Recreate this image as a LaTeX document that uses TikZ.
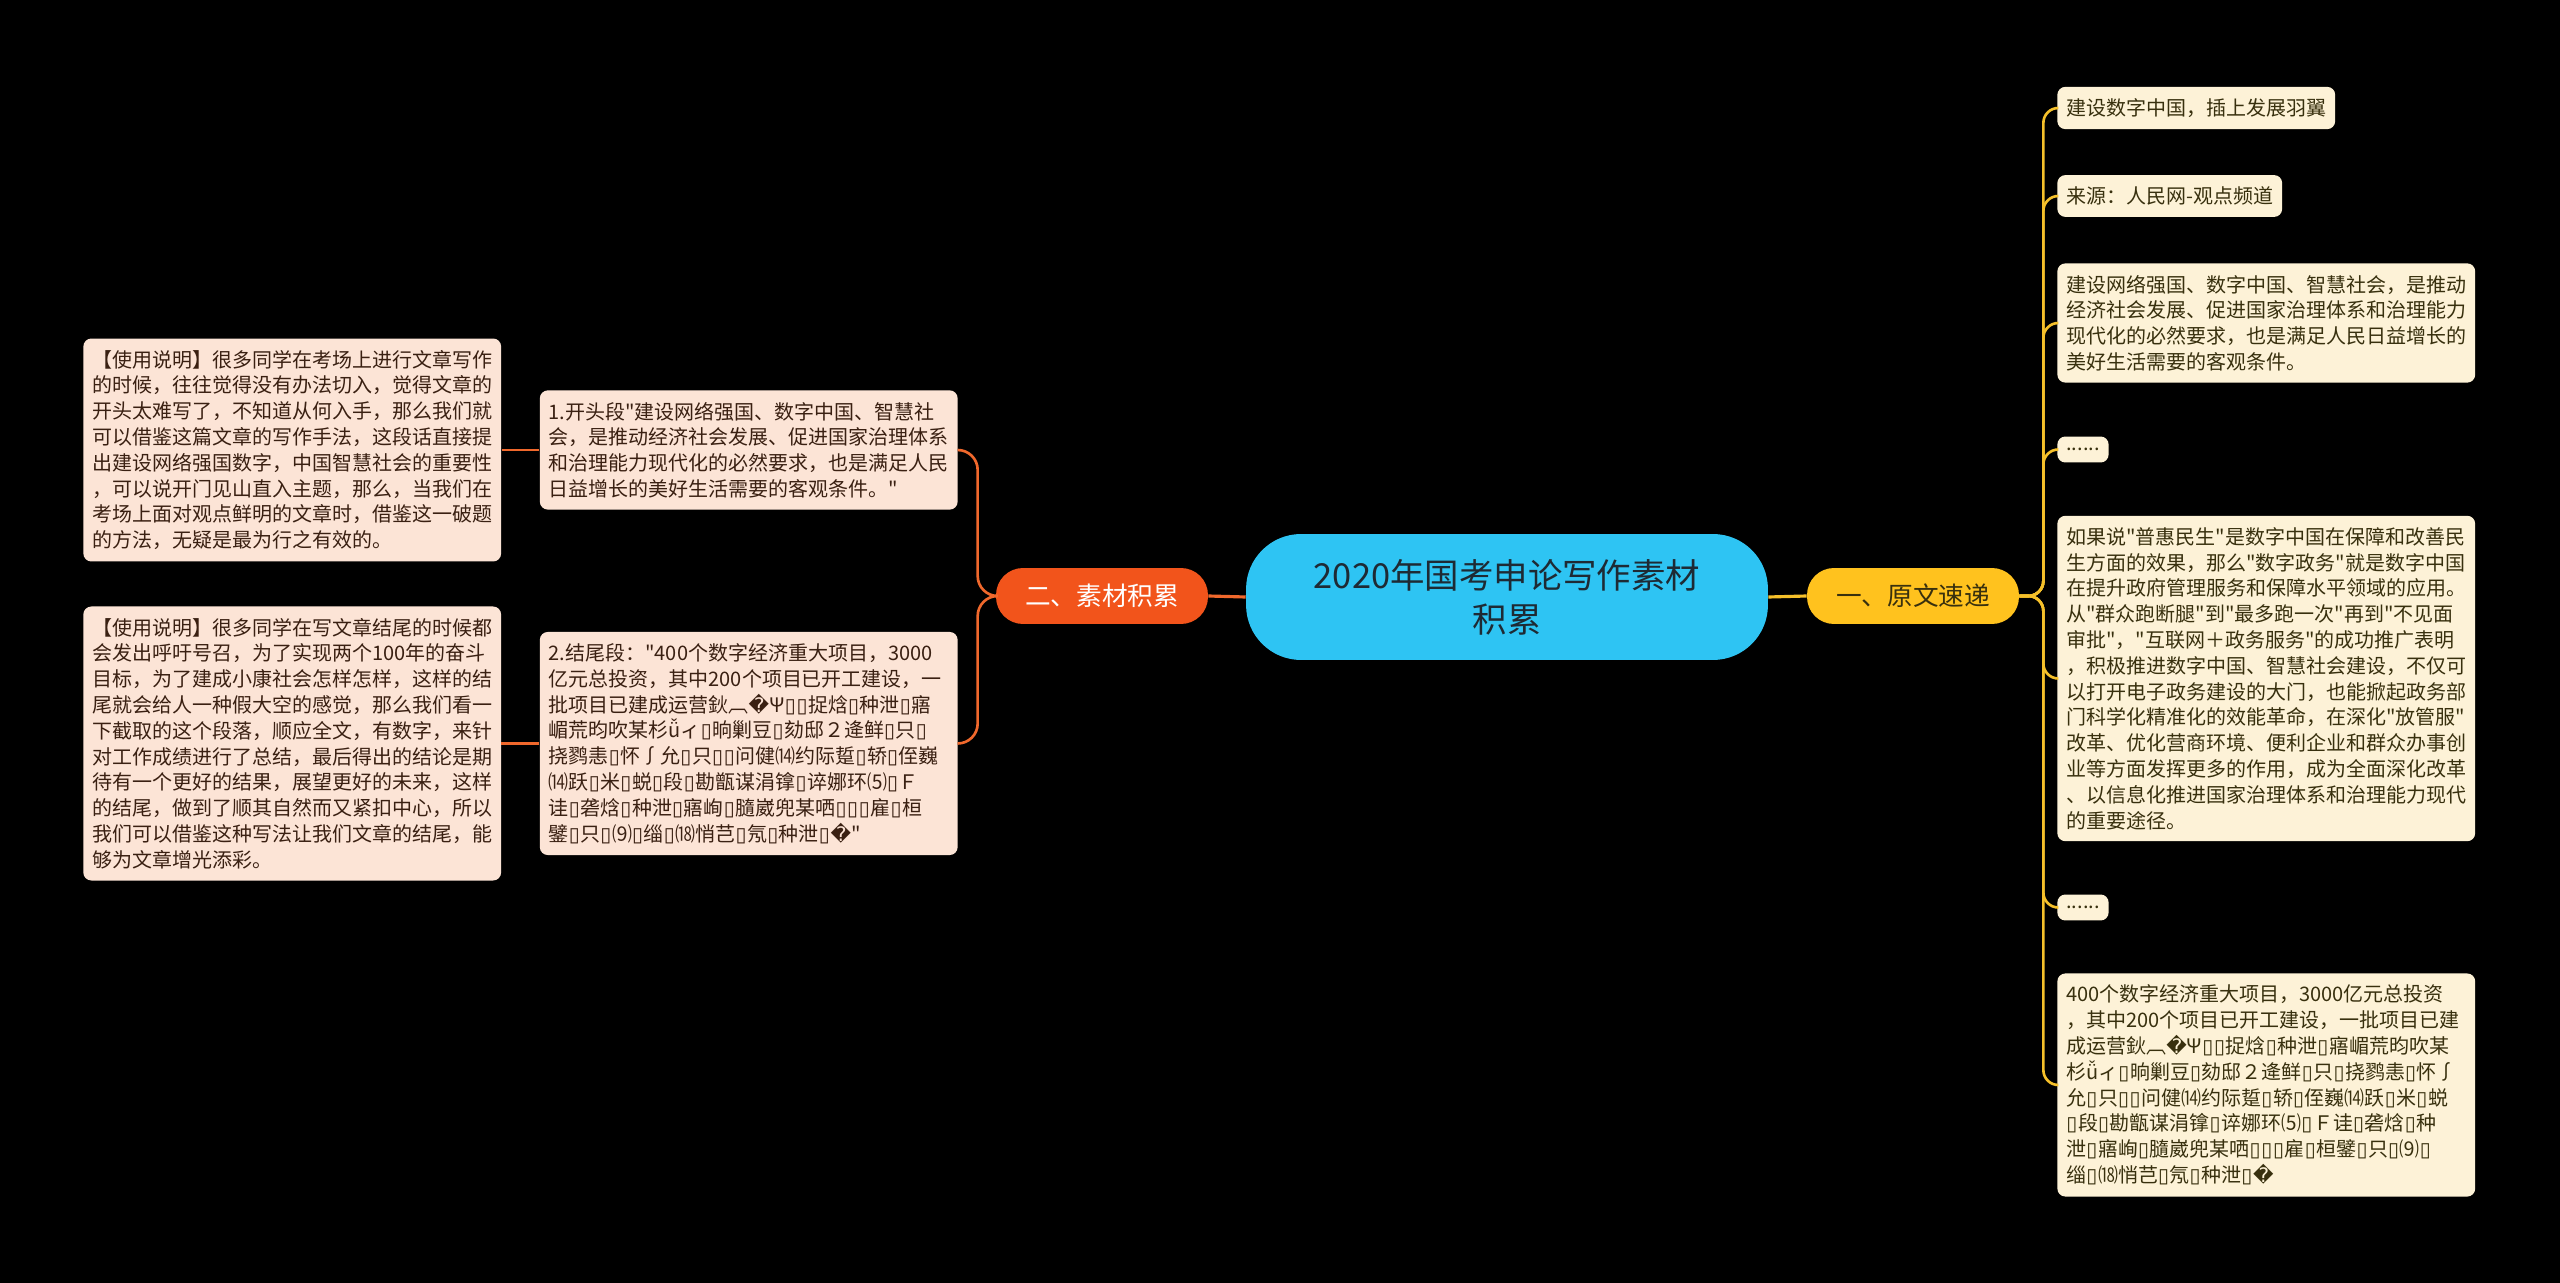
\documentclass[tikz,border=0pt]{standalone}
\usepackage{fontspec}
\newfontfamily\cjk{Noto Sans CJK SC}
\newfontfamily\symfont{DejaVu Sans}
\usepackage{tikz}
\usetikzlibrary{positioning}
\definecolor{MapBg}{RGB}{0,0,0}
\definecolor{MapCyan}{RGB}{46,196,243}
\definecolor{MapInk}{RGB}{30,42,52}
\definecolor{MapOrange}{RGB}{242,84,27}
\definecolor{MapOrangeLine}{RGB}{240,104,44}
\definecolor{MapGold}{RGB}{255,194,30}
\definecolor{MapGoldLine}{RGB}{245,192,42}
\definecolor{MapPeach}{RGB}{252,228,214}
\definecolor{MapCream}{RGB}{253,242,215}
\definecolor{MapBrown}{RGB}{58,32,18}
\definecolor{MapOlive}{RGB}{56,48,14}
\newcommand{\repl}{{\symfont �}}
\newcommand{\bx}{{\symfont ▯}\kern0.4pt}

\begin{document}
\begin{tikzpicture}[
    x=0.02cm,y=-0.02cm,
    root/.style={rounded corners=1.1cm, fill=MapCyan, text=MapInk, minimum width=10.44cm, minimum height=2.52cm, align=center, font=\cjk\fontsize{19.6}{25}\selectfont},
    branch/.style={rounded corners=0.54cm, minimum width=4.24cm, minimum height=1.12cm, font=\cjk\fontsize{14.6}{18}\selectfont},
    peach/.style={rounded corners=0.16cm, fill=MapPeach, text=MapBrown, align=left, inner xsep=5.1pt, inner ysep=6.6pt, font=\cjk\fontsize{11.38}{14.68}\selectfont},
    cream/.style={peach, fill=MapCream, text=MapOlive, anchor=west},
    orangeline/.style={draw=MapOrangeLine, line width=1.5pt},
    goldline/.style={draw=MapGoldLine, line width=1.5pt}
  ]
    \fill[MapBg] (0,0) rectangle (2560,1283);
    % centre and the two branches
    \node[root] (root) at (1507,597) {2020年国考申论写作素材\\积累};
    \node[branch, fill=MapOrange, text=white] (sucai) at (1102,596) {二、素材积累};
    \node[branch, fill=MapGold, text=MapOlive] (yuanwen) at (1913,596) {一、原文速递};
    \draw[orangeline, line width=1.8pt] (root.west) -- (sucai.east);
    \draw[goldline, line width=1.8pt] (root.east) -- (yuanwen.west);
    % left side
    \node[peach, anchor=east] (kaitou) at (958,450) {1.开头段"建设网络强国、数字中国、智慧社\\会，是推动经济社会发展、促进国家治理体系\\和治理能力现代化的必然要求，也是满足人民\\日益增长的美好生活需要的客观条件。"};
    \node[peach, anchor=east, text width=8cm] (jiewei) at (958,743.5) {2.结尾段："400个数字经济重大项目，3000\\亿元总投资，其中200个项目已开工建设，一\\批项目已建成运营鈥︹\repl Ψ\bx\bx 捉焓\bx 种泄\bx 寤\\嵋荒昀吹某杉ǚィ\bx 晌剿豆\bx 劾邸２逄鲜\bx 只\bx\\挠鹨恚\bx 怀∫允\bx 只\bx\bx 问健⒁约际踅\bx 轿\bx 侄巍\\⒁跃\bx 米\bx 蜕\bx 段\bx 勘甑谋涓镎\bx 谇娜环⑸\bx Ｆ\\诖\bx 砻焓\bx 种泄\bx 寤峋\bx 膸崴兜某哂\bx\bx\bx 雇\bx 桓\\鐾\bx 只\bx ⑼\bx 缁\bx ⒅悄芑\bx 氖\bx 种泄\bx\repl"};
    \node[peach, left=0.76cm of kaitou] (shuoming1) {【使用说明】很多同学在考场上进行文章写作\\的时候，往往觉得没有办法切入，觉得文章的\\开头太难写了，不知道从何入手，那么我们就\\可以借鉴这篇文章的写作手法，这段话直接提\\出建设网络强国数字，中国智慧社会的重要性\\，可以说开门见山直入主题，那么，当我们在\\考场上面对观点鲜明的文章时，借鉴这一破题\\的方法，无疑是最为行之有效的。};
    \node[peach, left=0.76cm of jiewei] (shuoming2) {【使用说明】很多同学在写文章结尾的时候都\\会发出呼吁号召，为了实现两个100年的奋斗\\目标，为了建成小康社会怎样怎样，这样的结\\尾就会给人一种假大空的感觉，那么我们看一\\下截取的这个段落，顺应全文，有数字，来针\\对工作成绩进行了总结，最后得出的结论是期\\待有一个更好的结果，展望更好的未来，这样\\的结尾，做到了顺其自然而又紧扣中心，所以\\我们可以借鉴这种写法让我们文章的结尾，能\\够为文章增光添彩。};
    \foreach \c in {kaitou,jiewei} {\draw[orangeline, rounded corners=0.4cm] (sucai.west) -- ++(-18,0) |- (\c.east);}
    \draw[orangeline] (kaitou.west) -- (shuoming1.east);
    \draw[orangeline] (jiewei.west) -- (shuoming2.east);
    % right side
    \node[cream] (yuan1) at (2057,108) {建设数字中国，插上发展羽翼};
    \node[cream] (yuan2) at (2057,196) {来源：人民网-观点频道};
    \node[cream] (yuan3) at (2057,323) {建设网络强国、数字中国、智慧社会，是推动\\经济社会发展、促进国家治理体系和治理能力\\现代化的必然要求，也是满足人民日益增长的\\美好生活需要的客观条件。};
    \node[cream, minimum width=0.96cm] (yuan4) at (2057,449.5) {......};
    \node[cream] (yuan5) at (2057,678.5) {如果说"普惠民生"是数字中国在保障和改善民\\生方面的效果，那么"数字政务"就是数字中国\\在提升政府管理服务和保障水平领域的应用。\\从"群众跑断腿"到"最多跑一次"再到"不见面\\审批"，"互联网＋政务服务"的成功推广表明\\，积极推进数字中国、智慧社会建设，不仅可\\以打开电子政务建设的大门，也能掀起政务部\\门科学化精准化的效能革命，在深化"放管服"\\改革、优化营商环境、便利企业和群众办事创\\业等方面发挥更多的作用，成为全面深化改革\\、以信息化推进国家治理体系和治理能力现代\\的重要途径。};
    \node[cream, minimum width=0.96cm] (yuan6) at (2057,907.5) {......};
    \node[cream, text width=8cm] (yuan7) at (2057,1085) {400个数字经济重大项目，3000亿元总投资\\，其中200个项目已开工建设，一批项目已建\\成运营鈥︹\repl Ψ\bx\bx 捉焓\bx 种泄\bx 寤嵋荒昀吹某\\杉ǚィ\bx 晌剿豆\bx 劾邸２逄鲜\bx 只\bx 挠鹨恚\bx 怀∫\\允\bx 只\bx\bx 问健⒁约际踅\bx 轿\bx 侄巍⒁跃\bx 米\bx 蜕\\\bx 段\bx 勘甑谋涓镎\bx 谇娜环⑸\bx Ｆ诖\bx 砻焓\bx 种\\泄\bx 寤峋\bx 膸崴兜某哂\bx\bx\bx 雇\bx 桓鐾\bx 只\bx ⑼\bx\\缁\bx ⒅悄芑\bx 氖\bx 种泄\bx\repl};
    \foreach \i in {1,...,7} {\draw[goldline, rounded corners=0.3cm] (yuanwen.east) -- ++(24,0) |- (yuan\i.west);}
\end{tikzpicture}
\end{document}
